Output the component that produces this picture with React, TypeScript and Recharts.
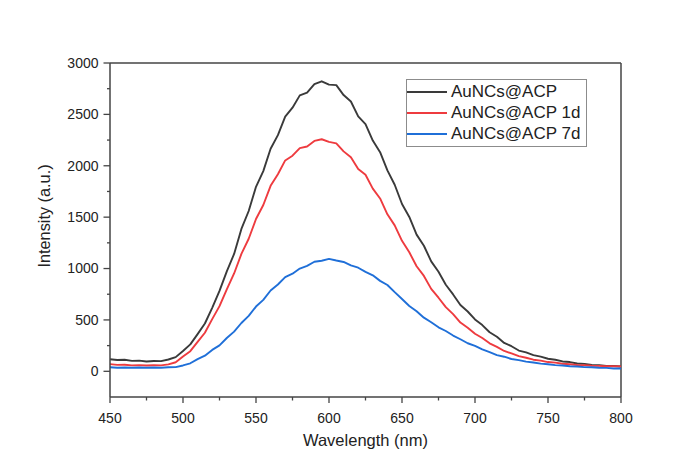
import { Legend, Line, LineChart, ReferenceLine, XAxis, YAxis } from 'recharts';

const wavelengths = [
  450, 455, 460, 465, 470, 475, 480, 485, 490, 495, 500, 505, 510, 515, 520, 525, 530, 535,
  540, 545, 550, 555, 560, 565, 570, 575, 580, 585, 590, 595, 600, 605, 610, 615, 620, 625,
  630, 635, 640, 645, 650, 655, 660, 665, 670, 675, 680, 685, 690, 695, 700, 705, 710, 715,
  720, 725, 730, 735, 740, 745, 750, 755, 760, 765, 770, 775, 780, 785, 790, 795, 800,
];

const fresh = [
  118, 110, 112, 102, 104, 96, 101, 99, 115, 138, 198, 262, 362, 465, 618, 782, 972, 1142,
  1385, 1560, 1795, 1948, 2165, 2298, 2478, 2565, 2685, 2712, 2795, 2822, 2790, 2785, 2688, 2625, 2480, 2405,
  2245, 2132, 1955, 1815, 1628, 1502, 1330, 1222, 1070, 968, 842, 748, 645, 582, 505, 450, 380, 336,
  276, 244, 202, 184, 158, 143, 122, 112, 96, 90, 76, 72, 62, 59, 53, 52, 47,
];

const day1 = [
  70, 63, 64, 58, 60, 56, 59, 58, 68, 88, 144, 196, 286, 375, 508, 634, 798, 952,
  1142, 1290, 1482, 1618, 1805, 1918, 2052, 2098, 2172, 2188, 2242, 2258, 2232, 2218, 2140, 2082, 1968, 1912,
  1778, 1682, 1528, 1420, 1270, 1158, 1022, 928, 802, 716, 624, 556, 474, 424, 366, 324, 272, 238,
  198, 174, 148, 132, 113, 104, 90, 84, 74, 69, 62, 60, 54, 53, 49, 50, 47,
];

const day7 = [
  40, 35, 37, 34, 37, 34, 37, 35, 39, 41, 57, 78, 118, 152, 208, 252, 324, 386,
  470, 540, 630, 695, 786, 845, 916, 950, 1000, 1026, 1066, 1076, 1094, 1078, 1064, 1030, 1008, 968,
  934, 880, 840, 770, 704, 636, 584, 522, 478, 428, 392, 348, 312, 273, 247, 213, 187, 158,
  142, 120, 109, 94, 86, 75, 69, 60, 56, 49, 47, 41, 39, 34, 33, 28, 28,
];

const xTicks = [450, 475, 500, 525, 550, 575, 600, 625, 650, 675, 700, 725, 750, 775, 800];
const yTicks = [0, 250, 500, 750, 1000, 1250, 1500, 1750, 2000, 2250, 2500, 2750, 3000];

const series = [
  { key: 'fresh', name: 'AuNCs@ACP', color: '#3a3a3a' },
  { key: 'day1', name: 'AuNCs@ACP 1d', color: '#ee3b3f' },
  { key: 'day7', name: 'AuNCs@ACP 7d', color: '#1f6fd8' },
];

const data = wavelengths.map((w, i) => ({ w, fresh: fresh[i], day1: day1[i], day7: day7[i] }));

const axisColor = '#444';
const textColor = '#222';

function XTick({ x, y, payload }: any) {
  const major = payload.value % 50 === 0;
  return (
    <g>
      <line x1={x} y1={y} x2={x} y2={y + (major ? 6 : 3.5)} stroke={axisColor} strokeWidth={1.3} />
      {major && (
        <text x={x} y={y + 26} textAnchor="middle" fontSize={14} fill={textColor}>
          {payload.value}
        </text>
      )}
    </g>
  );
}

function YTick({ x, y, payload }: any) {
  const major = payload.value % 500 === 0;
  return (
    <g>
      <line x1={x} y1={y} x2={x - (major ? 6.5 : 3)} y2={y} stroke={axisColor} strokeWidth={1.3} />
      {major && (
        <text x={x - 11.5} y={y} dy="0.35em" textAnchor="end" fontSize={14} fill={textColor}>
          {payload.value}
        </text>
      )}
    </g>
  );
}

function XLabel() {
  return (
    <text x={357.5} y={438} textAnchor="middle" fontSize={16.5} fill={textColor}>
      Wavelength (nm)
    </text>
  );
}

function YLabel() {
  return (
    <text x={42} y={208} transform="rotate(-90 42 208)" textAnchor="middle" fontSize={16.3} fill={textColor}>
      Intensity (a.u.)
    </text>
  );
}

function LegendBox() {
  return (
    <div
      style={{
        border: '1px solid #8c8c8c',
        background: '#fff',
        width: 179,
        padding: '1px 0 2px 0',
        fontFamily: '"Liberation Sans", Arial, sans-serif',
      }}
    >
      {series.map((s) => (
        <div key={s.key} style={{ display: 'flex', alignItems: 'center', height: 21 }}>
          <span style={{ display: 'inline-block', width: 40, height: 2, background: s.color }} />
          <span style={{ marginLeft: 4, fontSize: 17, color: textColor, lineHeight: '21px' }}>{s.name}</span>
        </div>
      ))}
    </div>
  );
}

export default function App() {
  return (
    <div style={{ width: 667, height: 457, fontFamily: '"Liberation Sans", Arial, sans-serif' }}>
      <LineChart width={667} height={457} data={data} margin={{ top: 55, right: 54, bottom: 8, left: 32 }}>
        <XAxis
          dataKey="w"
          type="number"
          domain={[450, 800]}
          ticks={xTicks}
          interval={0}
          tick={<XTick />}
          tickLine={false}
          tickSize={0}
          tickMargin={0}
          height={60}
          axisLine={{ stroke: axisColor, strokeWidth: 1.5 }}
          label={<XLabel />}
        />
        <YAxis
          type="number"
          domain={[-250, 3000]}
          ticks={yTicks}
          interval={0}
          tick={<YTick />}
          tickLine={false}
          tickSize={0}
          tickMargin={0}
          width={70}
          axisLine={{ stroke: axisColor, strokeWidth: 1.5 }}
          label={<YLabel />}
        />
        <ReferenceLine y={3000} stroke={axisColor} strokeWidth={1.5} />
        <ReferenceLine x={800} stroke={axisColor} strokeWidth={1.5} />
        {series.map((s) => (
          <Line
            key={s.key}
            type="linear"
            dataKey={s.key}
            name={s.name}
            stroke={s.color}
            strokeWidth={1.9}
            strokeLinejoin="round"
            dot={false}
            isAnimationActive={false}
          />
        ))}
        <Legend
          layout="vertical"
          align="center"
          verticalAlign="middle"
          content={() => <LegendBox />}
          wrapperStyle={{ left: 398, top: 71, width: 181 }}
        />
      </LineChart>
    </div>
  );
}
